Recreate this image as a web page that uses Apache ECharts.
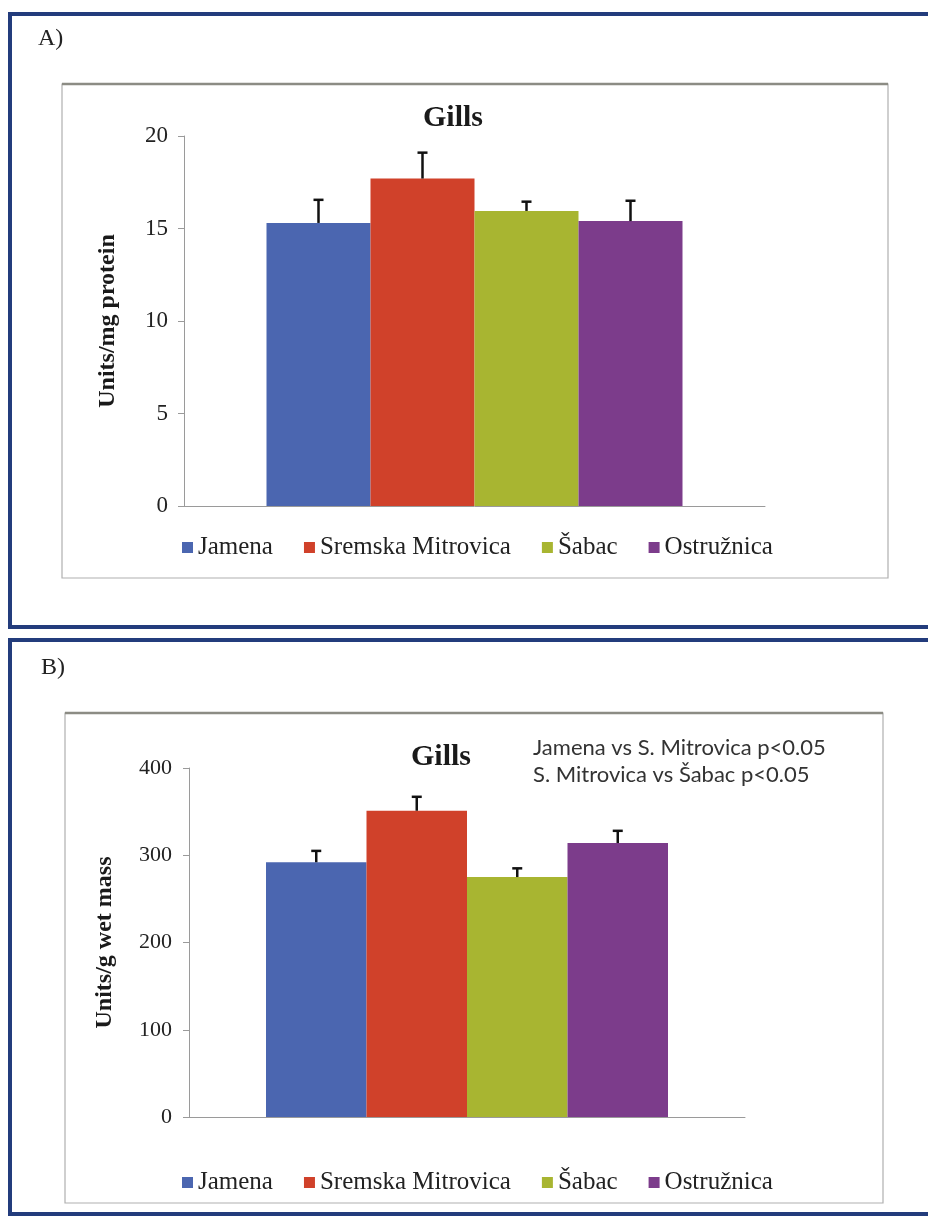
<!DOCTYPE html>
<html><head><meta charset="utf-8">
<script src="https://cdn.jsdelivr.net/npm/echarts/dist/echarts.min.js"></script>
<style>html,body{margin:0;padding:0;background:#fff}#c{width:928px;height:1218px}</style>
</head><body><div id="c"></div>
<script>
// ---- data ----
const sites = ['Jamena', 'Sremska Mitrovica', 'Šabac', 'Ostružnica'];
const siteColors = ['#4b66b0', '#d0412a', '#a8b531', '#7c3c8b'];
const proteinMeans = [15.3, 17.7, 15.95, 15.4];      // panel A, Units/mg protein
const proteinErr   = [1.25, 1.4, 0.5, 1.1];
const massMeans    = [292, 351, 275, 314];           // panel B, Units/g wet mass
const massErr      = [13, 16, 10, 14];
const proteinTicks = [0, 5, 10, 15, 20];
const massTicks    = [0, 100, 200, 300, 400];
const notes = ['Jamena vs S. Mitrovica p<0.05', 'S. Mitrovica vs Šabac p<0.05'];
const panelLabels = ['A)', 'B)'];
const tissue = 'Gills';

// ---- styles ----
const serif = '"Liberation Serif","Times New Roman",serif';
const axisGray = '#9a9a9a';
const frameBlue = '#233c7c';

function barSeries(vals, idx, bw) {
  return sites.map((s, i) => ({
    type: 'bar', name: s, xAxisIndex: idx, yAxisIndex: idx,
    data: [vals[i]], barWidth: bw, barGap: '0%',
    itemStyle: { color: siteColors[i] }, silent: true
  }));
}
function errSeries(vals, errs, idx, bw) {
  return {
    type: 'custom', name: 'err' + idx, xAxisIndex: idx, yAxisIndex: idx, z: 5, silent: true,
    data: vals.map((v, i) => [0, v, v + errs[i], i]),
    encode: { x: 0, y: [1, 2] },
    renderItem(params, api) {
      const i = api.value(3);
      const p0 = api.coord([0, api.value(1)]);
      const p1 = api.coord([0, api.value(2)]);
      const x = p0[0] + (i - 1.5) * bw;
      const st = { stroke: '#111', lineWidth: 2.5 };
      return { type: 'group', children: [
        { type: 'line', shape: { x1: x, y1: p0[1], x2: x, y2: p1[1] }, style: st },
        { type: 'line', shape: { x1: x - 5, y1: p1[1], x2: x + 5, y2: p1[1] }, style: st }
      ]};
    }
  };
}
function yAx(idx, ticks, name, fs, gap, margin) {
  return {
    gridIndex: idx, type: 'value', min: ticks[0], max: ticks[ticks.length - 1],
    interval: ticks[1] - ticks[0],
    name: name, nameLocation: 'middle', nameGap: gap, nameRotate: 90,
    nameTextStyle: { fontFamily: serif, fontWeight: 'bold', fontSize: 24, color: '#1a1a1a' },
    axisLine: { show: true, lineStyle: { color: axisGray, width: 1 } },
    axisTick: { show: true, length: 6, lineStyle: { color: axisGray } },
    splitLine: { show: false },
    axisLabel: { fontFamily: serif, fontSize: fs, color: '#222', margin: margin }
  };
}
function xAx(idx) {
  return {
    gridIndex: idx, type: 'category', data: [tissue],
    axisLine: { show: true, lineStyle: { color: axisGray, width: 1 } },
    axisTick: { show: false }, axisLabel: { show: false }
  };
}
function legend(top) {
  return {
    data: sites, left: 182, top: top, padding: 0, itemGap: 31,
    icon: 'rect', itemWidth: 11, itemHeight: 11, selectedMode: false,
    textStyle: { fontFamily: serif, fontSize: 25, color: '#222' }
  };
}

const chart = echarts.init(document.getElementById('c'), null, { renderer: 'canvas' });
chart.setOption({
  animation: false,
  backgroundColor: '#fff',
  title: [
    { text: tissue, left: 448, top: 98, textAlign: 'center',
      textStyle: { fontFamily: serif, fontWeight: 'bold', fontSize: 30, color: '#1a1a1a' } },
    { text: tissue, left: 436, top: 737, textAlign: 'center',
      textStyle: { fontFamily: serif, fontWeight: 'bold', fontSize: 30, color: '#1a1a1a' } }
  ],
  grid: [
    { left: 184, right: 163, top: 136, height: 370 },
    { left: 189, right: 183, top: 768, height: 349 }
  ],
  xAxis: [xAx(0), xAx(1)],
  yAxis: [
    yAx(0, proteinTicks, 'Units/mg protein', 23, 64, 16),
    yAx(1, massTicks, 'Units/g wet mass', 22, 72, 17)
  ],
  legend: [legend(535), legend(1170)],
  series: [
    ...barSeries(proteinMeans, 0, 104),
    errSeries(proteinMeans, proteinErr, 0, 104),
    ...barSeries(massMeans, 1, 100.5),
    errSeries(massMeans, massErr, 1, 100.5)
  ],
  graphic: [
    { type: 'rect', shape: { x: 10, y: 14, width: 940, height: 613 }, style: { fill: 'none', stroke: frameBlue, lineWidth: 4 }, silent: true },
    { type: 'rect', shape: { x: 10, y: 640, width: 940, height: 574 }, style: { fill: 'none', stroke: frameBlue, lineWidth: 4 }, silent: true },
    { type: 'rect', shape: { x: 62, y: 84, width: 826, height: 494 }, style: { fill: 'none', stroke: '#b0b0b0', lineWidth: 1.2 }, silent: true },
    { type: 'line', shape: { x1: 62, y1: 84, x2: 888, y2: 84 }, style: { stroke: '#8c8c84', lineWidth: 2.5 }, silent: true },
    { type: 'rect', shape: { x: 65, y: 713, width: 818, height: 490 }, style: { fill: 'none', stroke: '#b0b0b0', lineWidth: 1.2 }, silent: true },
    { type: 'line', shape: { x1: 65, y1: 713, x2: 883, y2: 713 }, style: { stroke: '#8c8c84', lineWidth: 2.5 }, silent: true },
    { type: 'text', left: 38, top: 27, style: { text: panelLabels[0], font: '24px ' + serif, fill: '#222' }, silent: true },
    { type: 'text', left: 41, top: 656, style: { text: panelLabels[1], font: '24px ' + serif, fill: '#222' }, silent: true },
    { type: 'text', left: 533, top: 737, style: { text: notes[0], font: '22px Lato, "Liberation Sans", sans-serif', fill: '#333' }, silent: true },
    { type: 'text', left: 533, top: 764, style: { text: notes[1], font: '22px Lato, "Liberation Sans", sans-serif', fill: '#333' }, silent: true }
  ]
});
</script>
</body></html>
